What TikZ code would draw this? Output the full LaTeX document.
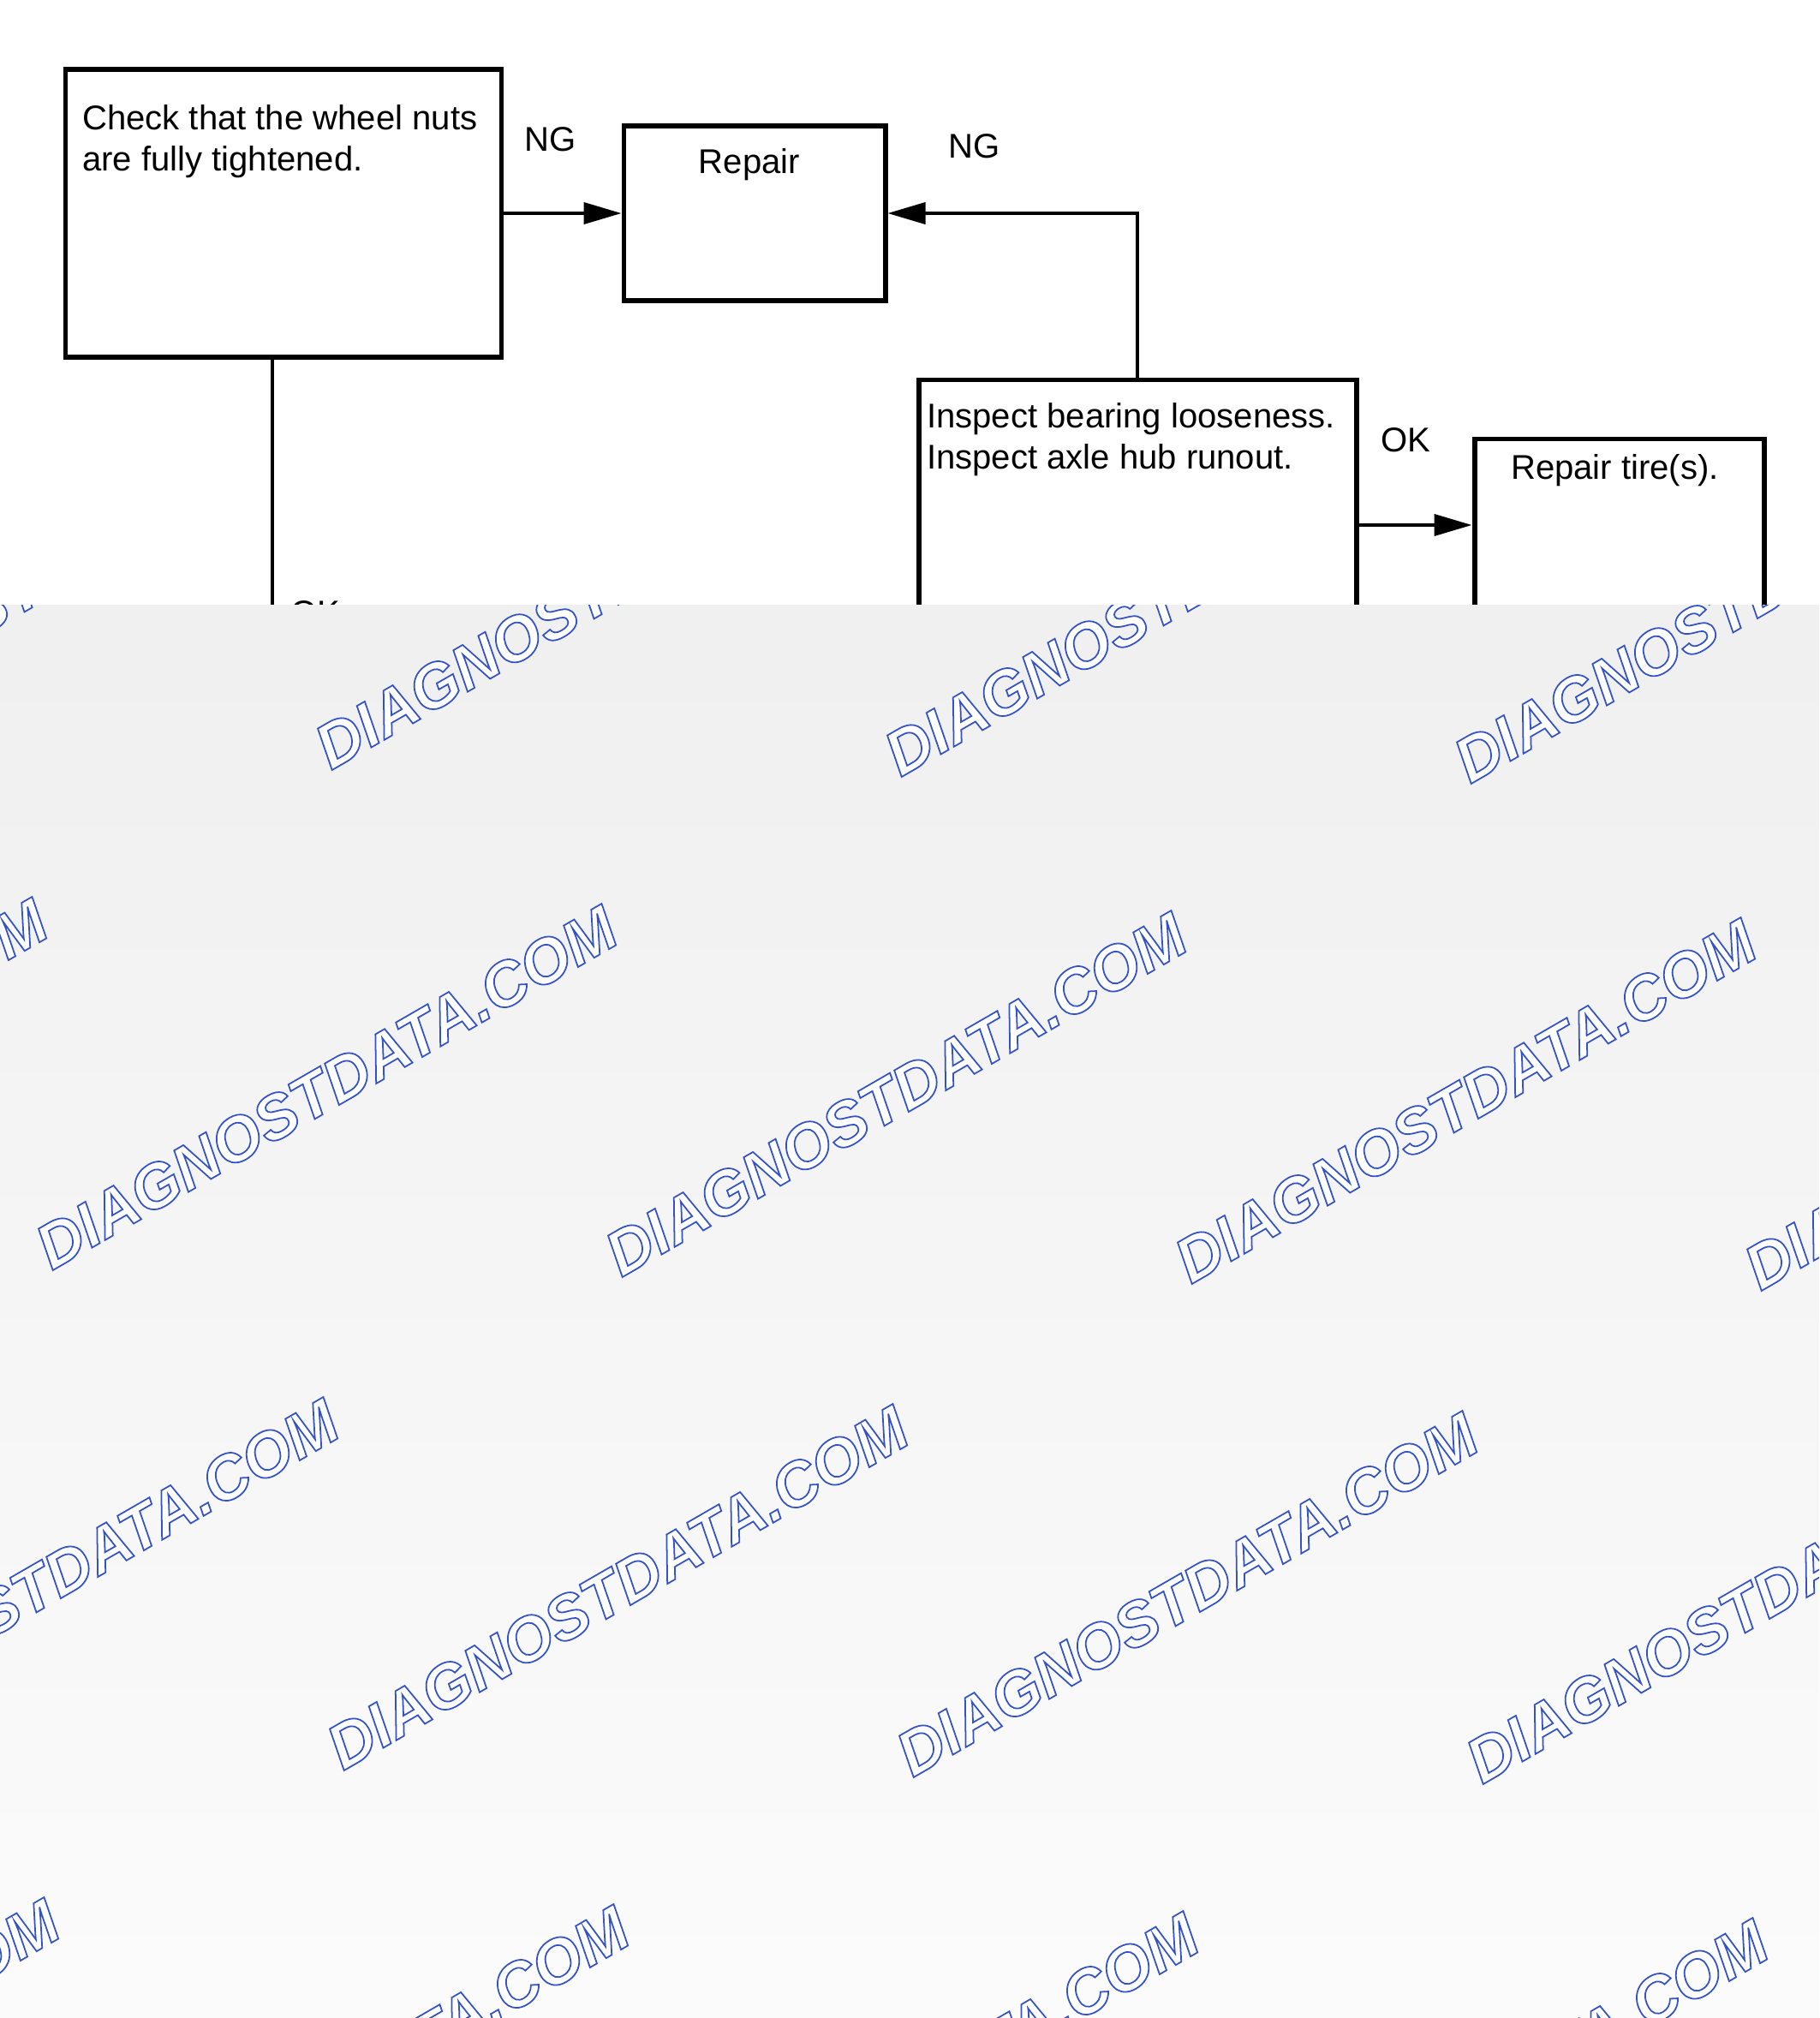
\documentclass[tikz,border=0pt]{standalone}
\usepackage{fontspec}
\setmainfont{Liberation Sans}
\usetikzlibrary{arrows.meta, positioning, calc}

% outlined lettering for the stamp text
\newcommand{\outlined}[1]{\special{pdf:literal direct 2 Tr 0.5 w 0.2 0.32 0.78 RG 1 1 1 rg}#1\special{pdf:literal direct 0 Tr 0 g 0 G}}

\begin{document}
\begin{tikzpicture}[
  % Define styles for different elements
  box/.style={draw, line width=1.7pt, inner sep=0pt},
  boxtext/.style={inner sep=0pt, align=left, font=\fontsize{11.4}{13.7}\selectfont},
  flowlabel/.style={inner sep=0pt, font=\fontsize{11.4}{13.7}\selectfont},
  conn/.style={line width=1.1pt},
  arrow/.style={conn, -{Triangle[length=0.44cm, width=0.25cm]}},
  stamp/.style={inner sep=0pt, font=\fontsize{20.8}{25}\selectfont\bfseries\itshape}
]
\useasboundingbox (0,0) rectangle (21.24,-23.56);

% Row 1: wheel nuts and repair
\node[box, minimum width=5.09cm, minimum height=3.36cm] (check) at (3.31,-2.49) {};
\node[boxtext, anchor=north west] (checktext) at ($(check.north west) + (0.22,-0.44)$) {Check that the wheel nuts\\are fully tightened.};

\node[box, minimum width=3.05cm, minimum height=2.04cm] (repair) at (8.81,-2.49) {};
\node[boxtext, anchor=north] (repairtext) at ($(repair.north) + (-0.06,-0.29)$) {Repair};

% Row 2: bearing and tire
\node[box, minimum width=5.11cm, minimum height=3.39cm] (inspect) at (13.28,-6.13) {};
\node[boxtext, anchor=north west] (inspecttext) at ($(inspect.north west) + (0.12,-0.29)$) {Inspect bearing looseness.\\Inspect axle hub runout.};

\node[box, minimum width=3.38cm, minimum height=2.01cm] (tire) at (18.905,-6.13) {};
\node[boxtext, anchor=north] (tiretext) at ($(tire.north) + (-0.05,-0.2)$) {Repair tire(s).};

% Labels
\node[flowlabel, anchor=base] (ng1) at (6.43,-1.77) {NG};
\node[flowlabel, anchor=base] (ng2) at (11.38,-1.85) {NG};
\node[flowlabel, anchor=base] (ok2) at (16.41,-5.27) {OK};
\node[flowlabel, anchor=base west] (ok1) at (3.39,-7.29) {OK};

% Connections
\coordinate (okdown) at (3.18,-8.5);
\draw[arrow] (check.east) -- (repair.west);
\draw[arrow] (inspect.north) |- (repair.east);
\draw[arrow] (inspect.east) -- (tire.west);
\draw[conn] (check.south -| okdown) -- (okdown);

% Veil over the lower part
\shade[top color=black!6, bottom color=black!1.5] (0,-7.06) rectangle (21.24,-23.56);

\begin{scope}
\clip (0,-7.06) rectangle (21.24,-23.56);
\foreach \row in {0,...,3}
  \foreach \col in {-1,...,3} {
    \pgfmathsetmacro{\wx}{3.86+6.65*\col-3.33*mod(\row,2)+0.07*\row}
    \pgfmathsetmacro{\wy}{-9.00-5.84*\row-0.08*\col}
    \node[stamp, anchor=base west, rotate=30] (wm-\row-\col) at (\wx,\wy) {\outlined{DIAGNOSTDATA.COM}};
  }
\end{scope}

\end{tikzpicture}
\end{document}
